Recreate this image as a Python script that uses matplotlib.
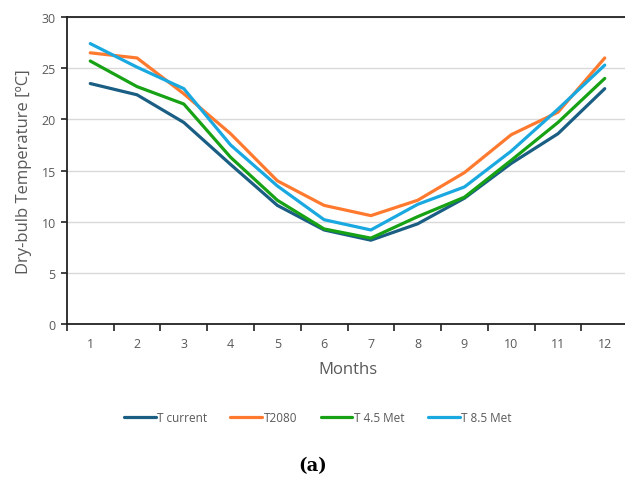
import numpy as np
import matplotlib.pyplot as plt

# Данные
months = np.arange(1, 13)
t_current = [23.5, 22.4, 19.7, 15.6, 11.6, 9.2, 8.2, 9.8, 12.3, 15.7, 18.6, 23.0]
t_2080 = [26.5, 26.0, 22.5, 18.6, 14.0, 11.6, 10.6, 12.1, 14.8, 18.5, 20.7, 26.0]
t_45 = [25.7, 23.2, 21.5, 16.3, 12.1, 9.3, 8.4, 10.5, 12.4, 16.0, 19.7, 24.0]
t_85 = [27.4, 25.1, 23.0, 17.5, 13.5, 10.2, 9.2, 11.7, 13.4, 16.9, 21.0, 25.3]

series = [
    ("T current", t_current, "#1b5e84"),
    ("T2080", t_2080, "#ff7a2f"),
    ("T 4.5 Met", t_45, "#16a214"),
    ("T 8.5 Met", t_85, "#1aa8e0"),
]

gray = "#595959"
plt.rcParams['font.family'] = ['Open Sans', 'DejaVu Sans']

fig = plt.figure(figsize=(6.25, 4.81), dpi=100)
ax = fig.add_axes([0.107, 0.324, 0.898, 0.6386])

for name, vals, col in series:
    ax.plot(months, vals, color=col, lw=2.3, label=name, solid_capstyle='round')

ax.set_xlim(0.5, 12.5)
ax.set_ylim(0, 30)
ax.set_yticks(np.arange(0, 31, 5))
ax.set_xticks(months)
ax.set_xticks(np.arange(0.5, 12.6, 1), minor=True)
ax.tick_params(axis='x', which='major', length=0, pad=9, labelsize=9, labelcolor=gray)
ax.tick_params(axis='x', which='minor', length=5, width=1.2, color='#222222')
ax.tick_params(axis='y', length=4, width=1.2, color='#222222', labelsize=9,
               labelcolor=gray, pad=4)
ax.grid(axis='y', color='#d9d9d9', lw=1)
ax.set_axisbelow(True)

for s in ['left', 'bottom', 'top']:
    ax.spines[s].set_color('#222222')
    ax.spines[s].set_linewidth(1.3)
ax.spines['right'].set_visible(False)

ax.set_ylabel("Dry-bulb Temperature [ºC]", fontsize=12, color=gray, labelpad=7)
ax.set_xlabel("Months", fontsize=12, color=gray, labelpad=8)

leg = fig.legend(loc='center', bbox_to_anchor=(0.508, 0.129), ncol=4, frameon=False,
                 fontsize=8.5, handlelength=2.7, handletextpad=0.1, columnspacing=2.0,
                 labelcolor=gray)
for line in leg.get_lines():
    line.set_linewidth(2.3)

fig.text(0.5, 0.032, "(a)", ha='center', va='center', fontsize=13,
         fontweight='bold', family='DejaVu Serif')

fig.savefig("out.png", dpi=100)
